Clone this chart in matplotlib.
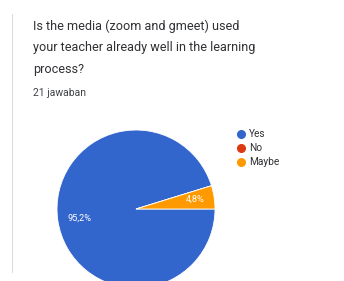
import matplotlib.pyplot as plt
from matplotlib.lines import Line2D

# Survey answers (21 responses)
labels = ["Yes", "No", "Maybe"]
counts = [20, 0, 1]
pct_text = ["95,2%", "", "4,8%"]
colors = ["#3366cc", "#dc3912", "#ff9900"]

question_lines = ["Is the media (zoom and gmeet) used",
                  "your teacher already well in the learning",
                  "process?"]
n_answers = "21 jawaban"

W, H = 344, 281
fig = plt.figure(figsize=(W / 100, H / 100), dpi=100)
fig.patch.set_facecolor("white")

# left card border
fig.add_artist(Line2D([12 / W, 12 / W], [1 - 14 / H, 1 - 272 / H],
                      color="#dadce0", lw=0.8))

for i, line in enumerate(question_lines):
    fig.text(33 / W, 1 - (26 + i * 22) / H, line, ha="left", va="center",
             fontsize=9.1, family="Roboto", color="#303134")
fig.text(33 / W, 1 - 93 / H, n_answers, ha="left", va="center", fontsize=7.5,
         family="Roboto", color="#404246")

# pie axes: centre (136, 209) px, radius 79 px
cx, cy, r = 136, 209, 79
ax = fig.add_axes([(cx - r) / W, (H - cy - r) / H, 2 * r / W, 2 * r / H])
wedges, _ = ax.pie(counts, colors=colors, startangle=0, counterclock=False,
                   wedgeprops=dict(edgecolor="white", linewidth=0.6))
ax.set_xlim(-1, 1)
ax.set_ylim(-1, 1)
for w in wedges:
    w.set_clip_on(False)

ax.text(-0.87, -0.12, pct_text[0], color="white", fontsize=6.6,
        family="Roboto", ha="left", va="center")
ax.text(0.75, 0.12, pct_text[2], color="white", fontsize=6.6,
        family="Roboto", ha="center", va="center")

# legend
for i, (lab, col) in enumerate(zip(labels, colors)):
    y = 1 - (134 + i * 14) / H
    fig.add_artist(Line2D([241 / W], [y], marker="o", markersize=5.5,
                          color=col, linestyle="none"))
    fig.text(249 / W, y, lab, ha="left", va="center", fontsize=7.3,
             family="Roboto", color="#303134")

fig.savefig("out.png", dpi=100)
